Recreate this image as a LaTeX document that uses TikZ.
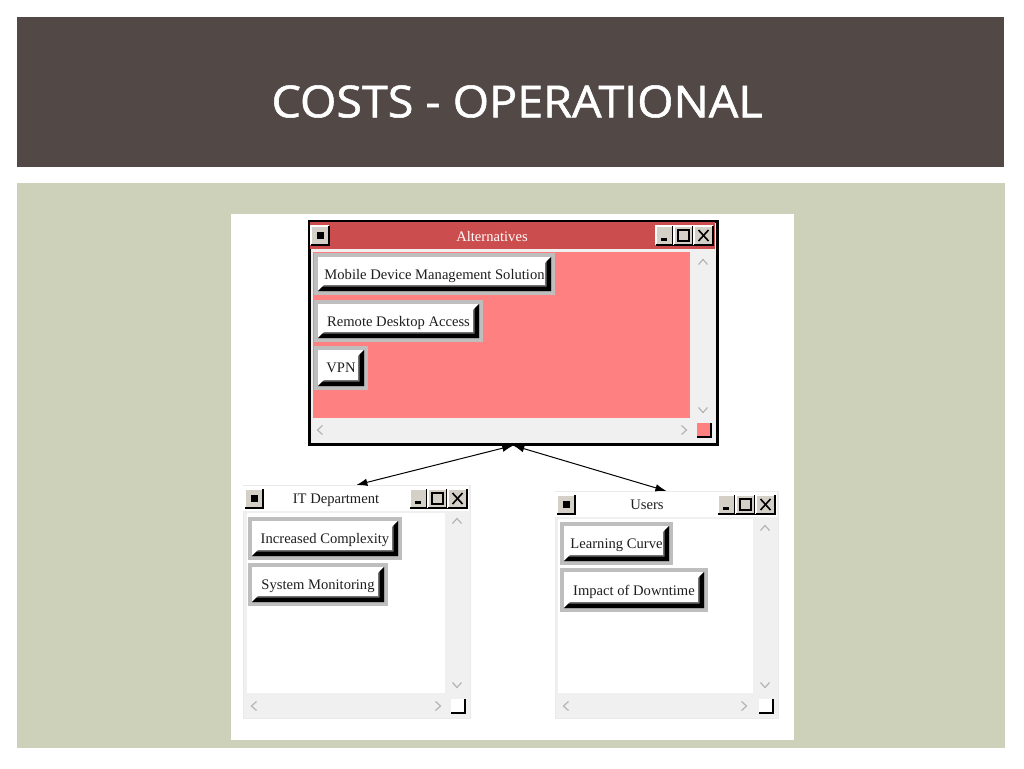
\documentclass[tikz,border=0pt]{standalone}
\usepackage{fontspec}
\usepackage{graphicx}
\setmainfont{Liberation Serif}
\newfontfamily\titlefont{Open Sans}[FakeBold=1.2]
\usetikzlibrary{arrows.meta}
\definecolor{hdr}{HTML}{524947}
\definecolor{sage}{HTML}{CDD1BA}
\definecolor{redbar}{HTML}{CC4D4D}
\definecolor{pinkbody}{HTML}{FF8080}
\definecolor{sbgray}{HTML}{F0F0F0}
\definecolor{edgegray}{HTML}{EAEAEA}
\definecolor{tbgray}{HTML}{D4D0C8}
\definecolor{framegray}{HTML}{BEBEBE}
\definecolor{chevgray}{HTML}{B4B4B4}
\definecolor{txt}{HTML}{1E1E1E}
\tikzset{
  btntext/.style={font=\fontsize{14.6}{16}\selectfont, text=txt, text depth=0pt},
  wbtn/.style={btntext, fill=white, inner sep=0pt, minimum width=#1,
    preaction={draw=framegray, line width=8pt},
    path picture={
      \fill[black!55] (path picture bounding box.south west) -- (path picture bounding box.south east)
        -- (path picture bounding box.north east) -- ([xshift=-6pt,yshift=-6pt]path picture bounding box.north east)
        -- ([xshift=-6pt,yshift=6pt]path picture bounding box.south east) -- ([xshift=6pt,yshift=6pt]path picture bounding box.south west) -- cycle;
      \fill[black] (path picture bounding box.south west) -- (path picture bounding box.south east)
        -- (path picture bounding box.north east) -- ([xshift=-4.5pt,yshift=-4.5pt]path picture bounding box.north east)
        -- ([xshift=-4.5pt,yshift=4.5pt]path picture bounding box.south east) -- ([xshift=4.5pt,yshift=4.5pt]path picture bounding box.south west) -- cycle;
    }},
  win/.style={anchor=north west, inner sep=0pt, fill=sbgray},
  chev/.style={draw=chevgray, line width=1.2pt},
  link/.style={{Latex[length=11pt,width=7.5pt]}-{Latex[length=11pt,width=7.5pt]}, line width=1pt},
  wtitle/.style={font=\fontsize{14.6}{16}\selectfont, text depth=0pt}
}
\newcommand\wbox[4]{%
  \fill[tbgray] (#1,#2) rectangle (#3,#4);
  \draw[white, line width=1.2pt] (#1,#4) -- (#1,#2) -- (#3,#2);
  \draw[black, line width=1.6pt] (#1,#4) -- (#3,#4) -- (#3,#2);
}
\newcommand\sysicon[3]{% left x, top y, bottom y
  \wbox{#1}{#2}{{#1+18}}{#3}
  \fill[black] ({#1+5.5},{(#2+#3)/2-3.5}) rectangle ({#1+12.5},{(#2+#3)/2+3.5});
}
\newcommand\tribtns[3]{% left x of minimize, top y, bottom y
  \wbox{#1}{#2}{{#1+17}}{#3}
  \fill[black] ({#1+5},{#3-7}) rectangle ({#1+11},{#3-4.5});
  \wbox{{#1+18}}{#2}{{#1+37}}{#3}
  \draw[black, line width=1.3pt] ({#1+22},{#2+4}) rectangle ({#1+33},{#3-4});
  \draw[black, line width=1.3pt] ({#1+22},{#2+4.6}) -- ({#1+33},{#2+4.6});
  \wbox{{#1+38}}{#2}{{#1+57}}{#3}
  \draw[black, line width=1.6pt] ({#1+42.5},{#2+4}) -- ({#1+52.5},{#3-4});
  \draw[black, line width=1.6pt] ({#1+42.5},{#3-4}) -- ({#1+52.5},{#2+4});
}
\newcommand\chevup[2]{\draw[chev] ({#1-4.5},{#2+2.5}) -- (#1,{#2-2.5}) -- ({#1+4.5},{#2+2.5});}
\newcommand\chevdown[2]{\draw[chev] ({#1-4.5},{#2-2.5}) -- (#1,{#2+2.5}) -- ({#1+4.5},{#2-2.5});}
\newcommand\chevleft[2]{\draw[chev] ({#1+2.5},{#2-4.5}) -- ({#1-2.5},#2) -- ({#1+2.5},{#2+4.5});}
\newcommand\chevright[2]{\draw[chev] ({#1-2.5},{#2-4.5}) -- ({#1+2.5},#2) -- ({#1-2.5},{#2+4.5});}
\newcommand\cornerbox[3]{% x, y, fill
  \fill[#3] (#1,#2) rectangle ({#1+14},{#2+14});
  \draw[black, line width=1.5pt] (#1,{#2+14}) -- ({#1+14},{#2+14}) -- ({#1+14},#2);
}
\begin{document}
\begin{tikzpicture}[x=1pt,y=-1pt]
\useasboundingbox (0,0) rectangle (1024,768);
\fill[white] (0,0) rectangle (1024,768);
% slide background
\fill[hdr] (17,17) rectangle (1004,167);
\fill[sage] (17,183) rectangle (1005,748);
\fill[white] (231,214) rectangle (794,740);
\node[text=white, inner sep=0pt] (title) at (517,101.5) {\resizebox{491pt}{32pt}{\titlefont COSTS - OPERATIONAL}};

% ---------- Alternatives window ----------
\node[win, draw=black, line width=2.5pt, minimum width=408pt, minimum height=223pt] (alt) at (308,220) {};
\fill[redbar] (309.5,221.5) rectangle (714.5,249);
\fill[pinkbody] (313,252) rectangle (690,418);
\sysicon{311}{226}{245}
\tribtns{656}{226}{245}
\node[wtitle, text=white] (alttitle) at (492,236) {Alternatives};
\chevup{703}{262}
\chevdown{703}{410}
\chevleft{320}{430}
\chevright{684}{430}
\cornerbox{697}{423}{pinkbody}
\node[wbtn=233pt, minimum height=34pt] (mdm) at (434.5,274) {Mobile Device Management Solution};
\node[wbtn=161pt, minimum height=34pt] (rda) at (398.5,321) {Remote Desktop Access};
\node[wbtn=46pt, minimum height=36pt] (vpn) at (341,368) {VPN};

% ---------- IT Department window ----------
\node[win, draw=edgegray, line width=0.8pt, minimum width=227pt, minimum height=233pt] (it) at (242.5,485) {};
\fill[white] (243,486) rectangle (469,511);
\fill[white] (247,513) rectangle (445,693);
\sysicon{245}{489}{508}
\tribtns{410}{489}{508}
\node[wtitle, text=txt] (ittitle) at (336,499) {IT Department};
\chevup{457}{521}
\chevdown{457}{685}
\chevleft{254}{706}
\chevright{438}{706}
\cornerbox{451}{699}{white}
\node[wbtn=146pt, minimum height=35pt] (ic) at (325,538.5) {Increased Complexity};
\node[wbtn=132pt, minimum height=35pt] (sm) at (318,584.5) {System Monitoring};

% ---------- Users window ----------
\node[win, draw=edgegray, line width=0.8pt, minimum width=223pt, minimum height=227pt] (users) at (554.5,491) {};
\fill[white] (555,492) rectangle (777,517);
\fill[white] (558,519) rectangle (753,693);
\sysicon{557}{495}{514}
\tribtns{718}{495}{514}
\node[wtitle, text=txt] (userstitle) at (647,505) {Users};
\chevup{765}{528}
\chevdown{765}{685}
\chevleft{566}{706}
\chevright{744}{706}
\cornerbox{759}{699}{white}
\node[wbtn=105pt, minimum height=35pt] (lc) at (616.5,543.5) {Learning Curve};
\node[wbtn=140pt, minimum height=36pt] (iod) at (634,590) {Impact of Downtime};

% ---------- connectors ----------
\draw[link] (alt.south) -- (it.north);
\draw[link] (alt.south) -- (users.north);
\end{tikzpicture}
\end{document}
